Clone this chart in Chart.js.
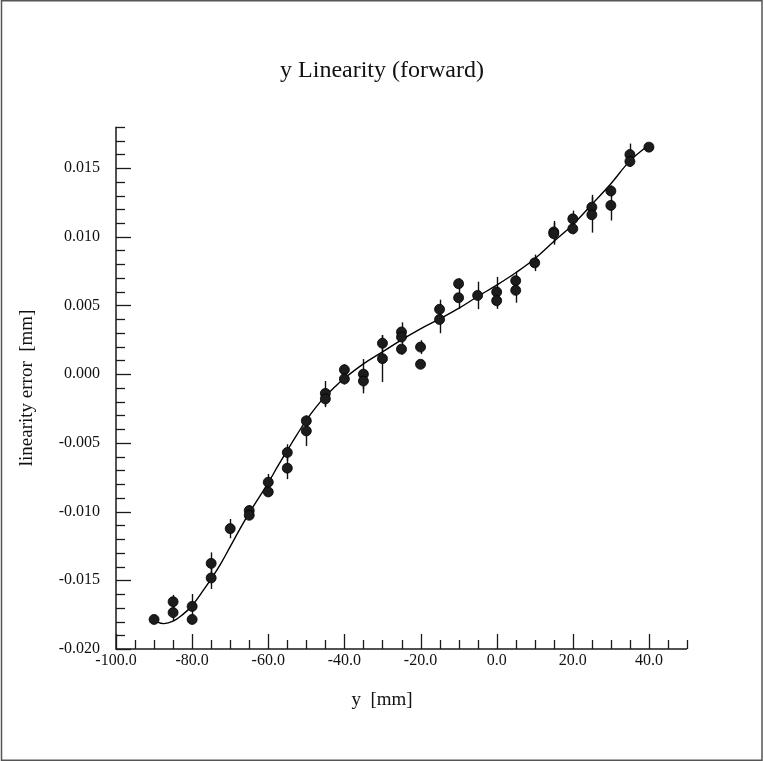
<!DOCTYPE html>
<html>
<head>
<meta charset="utf-8">
<script src="https://cdn.jsdelivr.net/npm/chart.js@4.4.1/dist/chart.umd.min.js"></script>
<style>
  html, body { margin: 0; padding: 0; background: #fff; }
  #wrap { width: 764px; height: 761px; }
</style>
</head>
<body>
<div id="wrap"><canvas id="lin" width="764" height="761"></canvas></div>
<script>
// ======================================
// DATA
// ======================================
const ptX = [-90, -85, -85, -80, -80, -75, -75, -70, -65, -65, -60, -60, -55, -55, -50, -50,
  -45, -45, -40, -40, -35, -35, -30, -30, -25, -25, -25, -20, -20, -15, -15, -10, -10, -5,
  0, 0, 5, 5, 10, 15, 15, 20, 20, 25, 25, 30, 30, 35, 35, 40];
const ptY = [-0.01785, -0.01656, -0.01735, -0.01690, -0.01785, -0.01377, -0.01483, -0.01124,
  -0.00993, -0.01027, -0.00786, -0.00857, -0.00570, -0.00684, -0.00340, -0.00413,
  -0.00140, -0.00180, 0.00032, -0.00035, 0.00000, -0.00050, 0.00225, 0.00113,
  0.00307, 0.00270, 0.00182, 0.00197, 0.00072, 0.00472, 0.00398, 0.00658, 0.00556, 0.00573,
  0.00598, 0.00535, 0.00680, 0.00610, 0.00810, 0.01035, 0.01022, 0.01130, 0.01058,
  0.01215, 0.01160, 0.01333, 0.01228, 0.01598, 0.01548, 0.01652];
const ptErr = [0.0002, 0.0005, 0.0006, 0.0009, 0.0002, 0.0008, 0.0008, 0.0007, 0.0004, 0.0003,
  0.0006, 0.0003, 0.0006, 0.0008, 0.0004, 0.0011, 0.0009, 0.0006, 0.0004, 0.0004,
  0.0011, 0.0009, 0.0006, 0.0017, 0.0007, 0.0005, 0.0004, 0.0005, 0.0, 0.0007,
  0.0010, 0.0004, 0.0008, 0.0010, 0.0011, 0.0006, 0.0006, 0.0009, 0.0006, 0.0008,
  0.0008, 0.0006, 0.0004, 0.0009, 0.0013, 0.0004, 0.0011, 0.0008, 0.0004, 0.0001];

// fitted curve
const fitX = [-90, -87.5, -85, -82.5, -80, -77.5, -75, -72.5, -70, -67.5, -65, -62.5, -60,
  -57.5, -55, -52.5, -50, -47.5, -45, -42.5, -40, -35, -30, -25, -20, -15, -10, -5,
  0, 5, 10, 15, 20, 25, 30, 35, 40];
const fitY = [-0.01795, -0.01815, -0.01798, -0.01750, -0.01685, -0.01590, -0.01490, -0.01380,
  -0.01255, -0.01130, -0.01010, -0.00900, -0.00790, -0.00670, -0.00555, -0.00442, -0.00335,
  -0.00242, -0.00160, -0.00092, -0.00030, 0.00075, 0.00162, 0.00250, 0.00330, 0.00402,
  0.00478, 0.00565, 0.00648, 0.00738, 0.00840, 0.00965, 0.01088, 0.01235, 0.01385,
  0.01552, 0.01670];

// labelled ticks
const xLabelTicks = [-100, -80, -60, -40, -20, 0, 20, 40];
const yLabelTicks = [-0.020, -0.015, -0.010, -0.005, 0.000, 0.005, 0.010, 0.015];

const serif = "'Liberation Serif', 'Times New Roman', serif";

// ======================================
// PLUGIN: error bars, inward ticks, frame
// ======================================
const decor = {
    id: "decor",
    beforeDraw(chart) {
        const c = chart.ctx;
        c.save();
        c.fillStyle = "#fff";
        c.fillRect(0, 0, chart.width, chart.height);
        c.restore();
    },
    beforeDatasetsDraw(chart) {
        const { ctx, chartArea: a, scales: { x, y } } = chart;
        ctx.save();
        // error bars
        ctx.strokeStyle = "#111";
        ctx.lineWidth = 1.4;
        ptX.forEach((v, i) => {
            if (!ptErr[i]) return;
            const px = Math.round(x.getPixelForValue(v)) + 0.5;
            ctx.beginPath();
            ctx.moveTo(px, y.getPixelForValue(ptY[i] - ptErr[i]));
            ctx.lineTo(px, y.getPixelForValue(ptY[i] + ptErr[i]));
            ctx.stroke();
        });
        // axes
        ctx.strokeStyle = "#1a1a1a";
        ctx.lineWidth = 1.5;
        ctx.beginPath();
        ctx.moveTo(a.left, a.top);
        ctx.lineTo(a.left, a.bottom);
        ctx.lineTo(a.right, a.bottom);
        ctx.stroke();
        // inward ticks
        ctx.lineWidth = 1.3;
        y.ticks.forEach(t => {
            const py = Math.round(y.getPixelForValue(t.value)) + 0.5;
            const len = t.label ? 15 : 9;
            ctx.beginPath();
            ctx.moveTo(a.left, py);
            ctx.lineTo(a.left + len, py);
            ctx.stroke();
        });
        x.ticks.forEach(t => {
            const px = Math.round(x.getPixelForValue(t.value)) + 0.5;
            const len = t.label ? 15 : 9;
            ctx.beginPath();
            ctx.moveTo(px, a.bottom);
            ctx.lineTo(px, a.bottom - len);
            ctx.stroke();
        });
        ctx.restore();
    },
    afterDraw(chart) {
        const c = chart.ctx;
        c.save();
        c.strokeStyle = "#555";
        c.lineWidth = 1.5;
        c.strokeRect(1.5, 0.75, 760.5, 759.5);
        c.restore();
    }
};

// ======================================
// CHART
// ======================================
const near = (list, v) => list.find(t => Math.abs(t - v) < 1e-7);

new Chart(document.getElementById("lin"), {
    type: "scatter",
    data: {
        datasets: [
            {
                label: "data",
                data: ptX.map((v, i) => ({ x: v, y: ptY[i] })),
                pointRadius: 5,
                pointBackgroundColor: "#1c1c1c",
                pointBorderColor: "#000",
                pointBorderWidth: 0.8
            },
            {
                label: "fit",
                data: fitX.map((v, i) => ({ x: v, y: fitY[i] })),
                showLine: true,
                pointRadius: 0,
                borderColor: "#000",
                borderWidth: 1.4,
                tension: 0.4,
                fill: false
            }
        ]
    },
    options: {
        responsive: false,
        animation: false,
        devicePixelRatio: 1,
        layout: { padding: 0 },
        plugins: {
            legend: { display: false },
            tooltip: { enabled: false },
            title: {
                display: true,
                text: "y Linearity (forward)",
                color: "#111",
                font: { family: serif, size: 24, weight: "normal", lineHeight: 1.2 },
                padding: { top: 56, bottom: 42 }
            },
            subtitle: {
                display: true,
                position: "bottom",
                text: "y  [mm]",
                color: "#111",
                font: { family: serif, size: 19, weight: "normal", lineHeight: 1.2 },
                padding: { top: 10, bottom: 50 }
            }
        },
        scales: {
            x: {
                type: "linear",
                min: -100,
                max: 50,
                grid: { display: false, drawTicks: false },
                border: { display: false },
                ticks: {
                    stepSize: 5,
                    autoSkip: false,
                    maxRotation: 0,
                    padding: 2,
                    color: "#111",
                    font: { family: serif, size: 16 },
                    callback: v => {
                        const m = near(xLabelTicks, v);
                        return m === undefined ? "" : m.toFixed(1);
                    }
                },
                afterFit: s => { s.height = 29.2; s.paddingRight = 77; }
            },
            y: {
                type: "linear",
                min: -0.020,
                max: 0.018,
                grid: { display: false, drawTicks: false },
                border: { display: false },
                title: {
                    display: true,
                    text: "linearity error  [mm]",
                    color: "#111",
                    font: { family: serif, size: 19, lineHeight: 1.2 },
                    padding: { top: 16, bottom: 0 }
                },
                ticks: {
                    stepSize: 0.001,
                    autoSkip: false,
                    padding: 16,
                    color: "#111",
                    font: { family: serif, size: 16 },
                    callback: v => {
                        const m = near(yLabelTicks, v);
                        return m === undefined ? "" : m.toFixed(3);
                    }
                },
                afterFit: s => { s.width = 116; }
            }
        }
    },
    plugins: [decor]
});
</script>
</body>
</html>
